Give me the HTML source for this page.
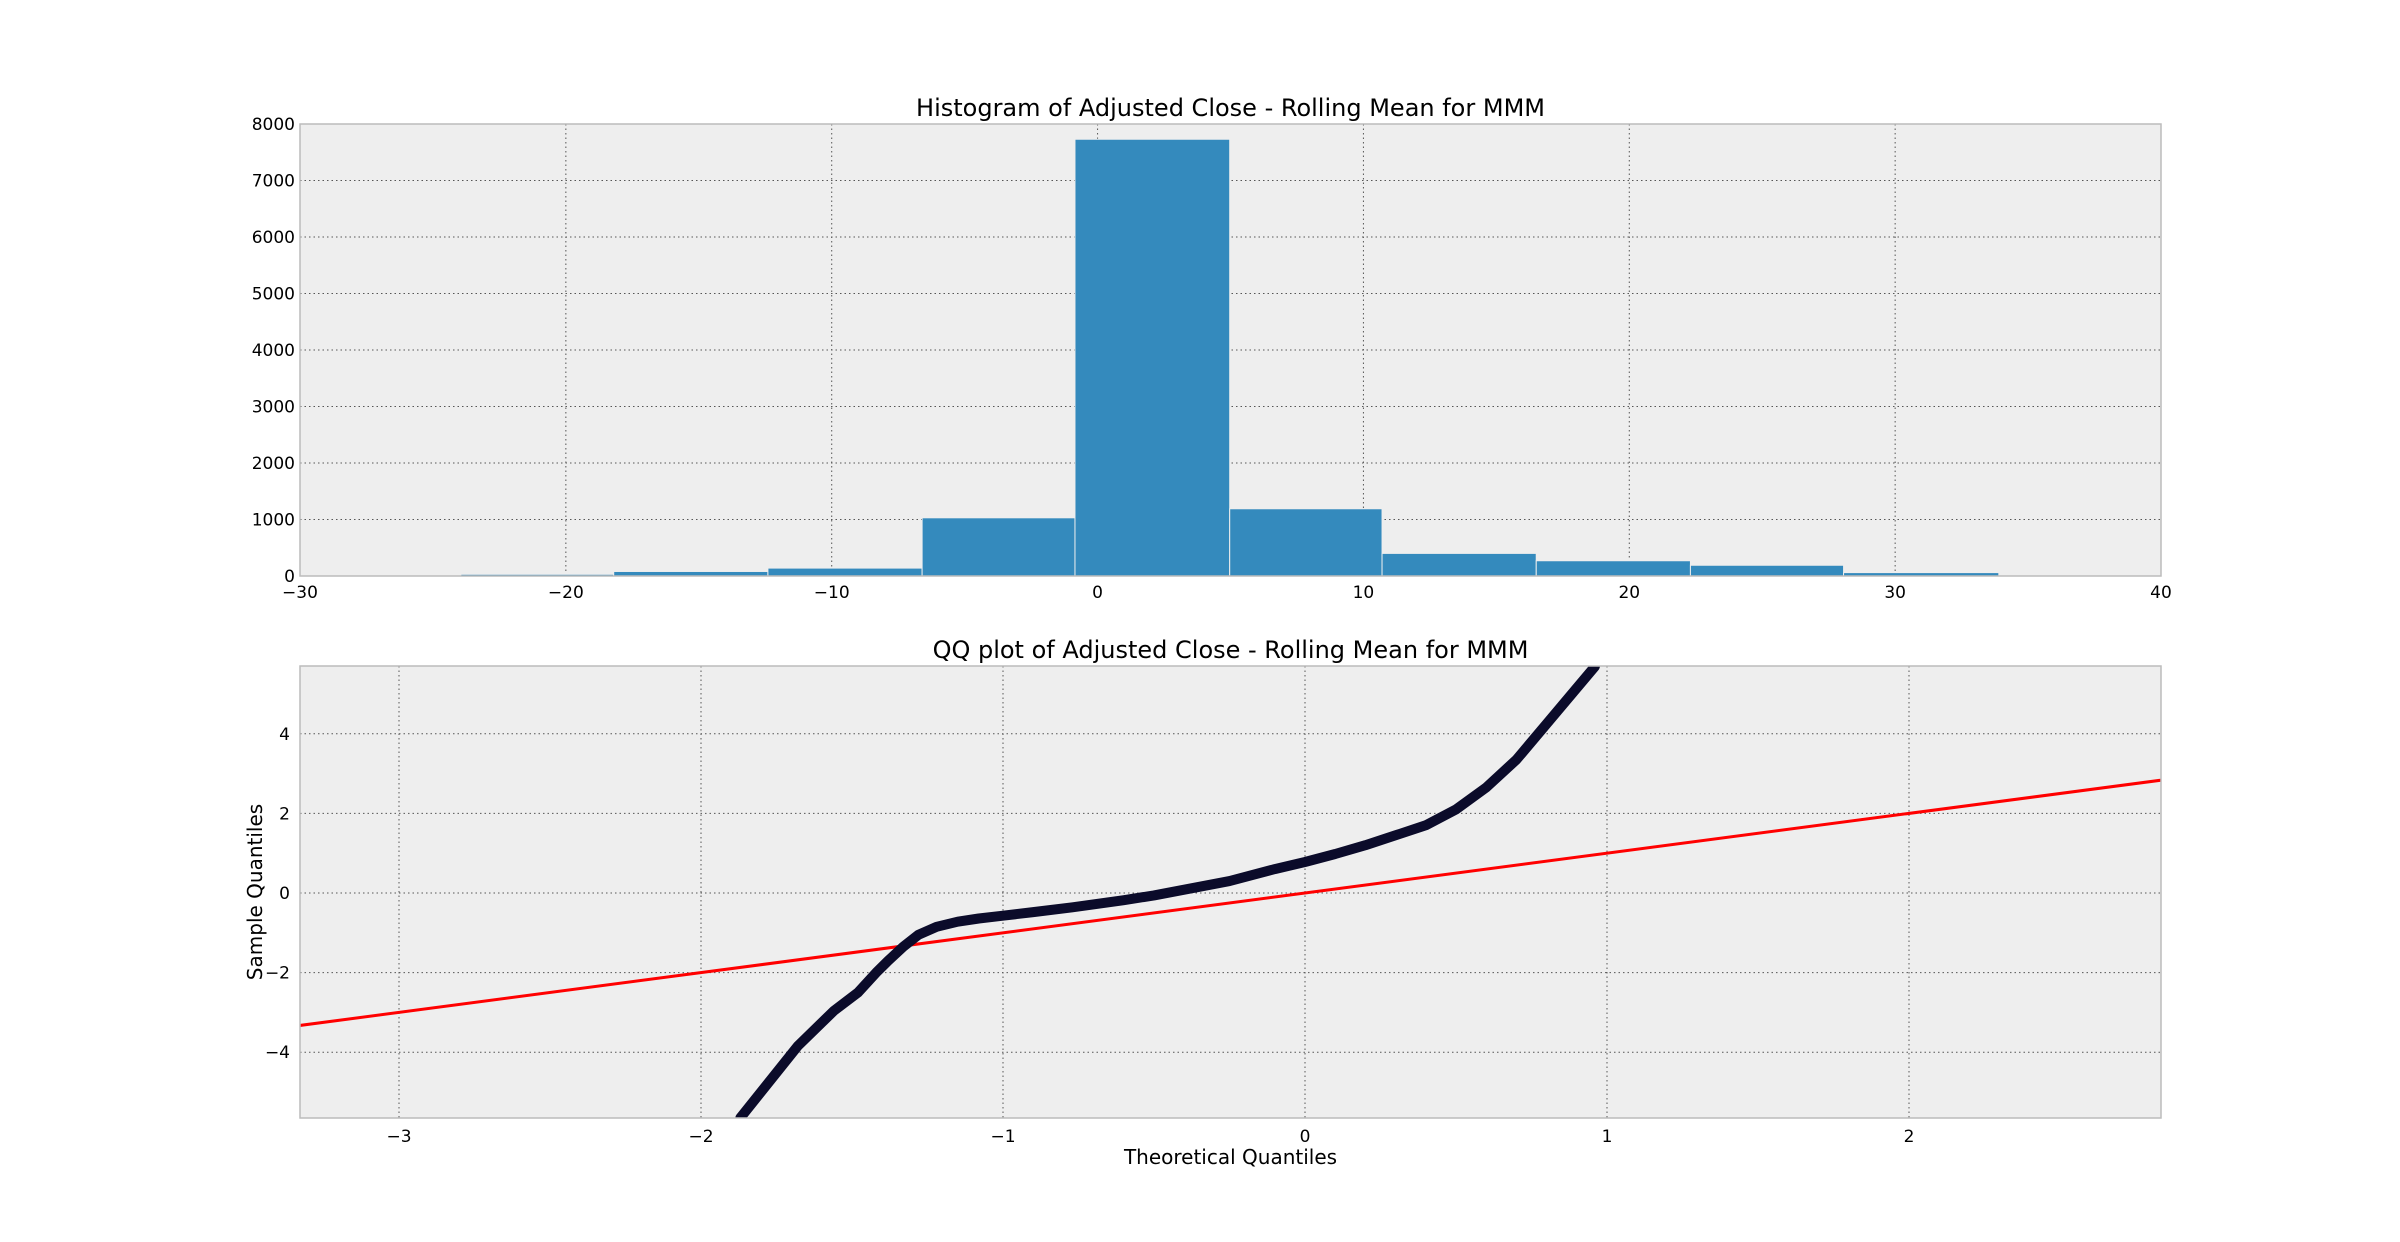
<!DOCTYPE html>
<html><head><meta charset="utf-8"><style>
html,body{margin:0;padding:0;background:#fff;width:2400px;height:1242px;overflow:hidden}
svg text{font-family:"DejaVu Sans","Liberation Sans",sans-serif;fill:#000}
</style></head><body>
<svg id="fig" width="2400" height="1242" xmlns="http://www.w3.org/2000/svg"></svg>
<script>
const binEdges=[-23.95,-18.2,-12.4,-6.6,-0.85,4.97,10.7,16.5,22.3,28.06,33.9];
const binCounts=[30,80,140,1030,7730,1190,400,270,190,60];
const histXTicks=[-30,-20,-10,0,10,20,30,40];
const histXTickLabels=["\u221230","\u221220","\u221210","0","10","20","30","40"];
const histYTicks=[0,1000,2000,3000,4000,5000,6000,7000,8000];
const qqX=[-1.87,-1.78,-1.68,-1.56,-1.48,-1.42,-1.38,-1.33,-1.28,-1.22,-1.15,-1.08,-1.0,-0.9,-0.77,-0.6,-0.5,-0.25,-0.1,0,0.1,0.2,0.3,0.4,0.5,0.6,0.7,0.8,0.9,0.96];
const qqY=[-5.65,-4.8,-3.85,-2.96,-2.5,-2.0,-1.7,-1.35,-1.05,-0.85,-0.72,-0.64,-0.57,-0.48,-0.36,-0.18,-0.06,0.3,0.6,0.78,0.98,1.2,1.45,1.7,2.1,2.65,3.35,4.25,5.15,5.69];
const qqXTicks=[-3,-2,-1,0,1,2];
const qqXTickLabels=["\u22123","\u22122","\u22121","0","1","2"];
const qqYTicks=[-4,-2,0,2,4];
const qqYTickLabels=["\u22124","\u22122","0","2","4"];
const refLine=[-3.4,2.9];

const NS="http://www.w3.org/2000/svg";
const svg=document.getElementById('fig');
function mk(t,a,p){const e=document.createElementNS(NS,t);for(const k in a)e.setAttribute(k,a[k]);(p||svg).appendChild(e);return e;}

const A={l:300,r:2161,t:124,b:576};
const hx=v=>A.l+(v+30)/70*(A.r-A.l);
const hy=v=>A.b-v/8000*(A.b-A.t);
const g1=mk('g',{});


const bg1=mk('rect',{x:A.l,y:A.t,width:A.r-A.l,height:A.b-A.t,fill:'#eeeeee'},g1);


histXTicks.forEach((v,i)=>{
  const x=hx(v);
  const gl=mk('line',{x1:x,x2:x,y1:A.t,y2:A.b,stroke:'#555','stroke-width':1,'stroke-dasharray':'1.5,3'},g1);
  
  
  const t=mk('text',{x:x,y:A.b+22,'font-size':17,'text-anchor':'middle'},g1);t.textContent=histXTickLabels[i];
  
  
});
histYTicks.forEach(v=>{
  const y=hy(v);
  const gl=mk('line',{x1:A.l,x2:A.r,y1:y,y2:y,stroke:'#555','stroke-width':1,'stroke-dasharray':'1.5,3'},g1);
  
  
  const t=mk('text',{x:A.l-5,y:y+6,'font-size':17,'text-anchor':'end'},g1);t.textContent=String(v);
  
  
});
binCounts.forEach((c,i)=>{
  const x0=hx(binEdges[i]),x1=hx(binEdges[i+1]);
  const r=mk('rect',{x:x0,y:hy(c),width:x1-x0,height:hy(0)-hy(c),fill:'#348abd',stroke:'#eeeeee','stroke-width':1},g1);
  
  
});
const f1=mk('rect',{x:A.l,y:A.t,width:A.r-A.l,height:A.b-A.t,fill:'none',stroke:'#bcbcbc','stroke-width':1.5},g1);


const t1=mk('text',{x:(A.l+A.r)/2,y:A.t-8,'font-size':24,'text-anchor':'middle'},g1);
t1.textContent='Histogram of Adjusted Close - Rolling Mean for MMM';



const B={l:300,r:2161,t:666,b:1118};
const qx=v=>1305+v*302;
const qy=v=>893-v*39.8;
const g2=mk('g',{});


const bg2=mk('rect',{x:B.l,y:B.t,width:B.r-B.l,height:B.b-B.t,fill:'#eeeeee'},g2);


qqXTicks.forEach((v,i)=>{
  const x=qx(v);
  const gl=mk('line',{x1:x,x2:x,y1:B.t,y2:B.b,stroke:'#555','stroke-width':1,'stroke-dasharray':'1.5,3'},g2);
  
  
  const t=mk('text',{x:x,y:B.b+24,'font-size':17,'text-anchor':'middle'},g2);t.textContent=qqXTickLabels[i];
  
  
});
qqYTicks.forEach((v,i)=>{
  const y=qy(v);
  const gl=mk('line',{x1:B.l,x2:B.r,y1:y,y2:y,stroke:'#555','stroke-width':1,'stroke-dasharray':'1.5,3'},g2);
  
  
  const t=mk('text',{x:B.l-10,y:y+6,'font-size':17,'text-anchor':'end'},g2);t.textContent=qqYTickLabels[i];
  
  
});
const clip=mk('clipPath',{id:'qc'},g2);mk('rect',{x:B.l,y:B.t,width:B.r-B.l,height:B.b-B.t},clip);
const rl=mk('line',{x1:qx(refLine[0]),y1:qy(refLine[0]),x2:qx(refLine[1]),y2:qy(refLine[1]),stroke:'#ff0000','stroke-width':3,'clip-path':'url(#qc)'},g2);


const pts=qqX.map((x,i)=>qx(x).toFixed(1)+','+qy(qqY[i]).toFixed(1)).join(' ');
const cur=mk('polyline',{points:pts,fill:'none',stroke:'#0b0b2a','stroke-width':10,'stroke-linejoin':'round','stroke-linecap':'round','clip-path':'url(#qc)'},g2);


const f2=mk('rect',{x:B.l,y:B.t,width:B.r-B.l,height:B.b-B.t,fill:'none',stroke:'#bcbcbc','stroke-width':1.5},g2);


const t2=mk('text',{x:(B.l+B.r)/2,y:B.t-8,'font-size':24,'text-anchor':'middle'},g2);
t2.textContent='QQ plot of Adjusted Close - Rolling Mean for MMM';


const xl=mk('text',{x:(B.l+B.r)/2,y:1164,'font-size':20,'text-anchor':'middle'},g2);
xl.textContent='Theoretical Quantiles';


const yl=mk('text',{x:0,y:0,'font-size':20,'text-anchor':'middle',transform:'translate(262,892) rotate(-90)'},g2);
yl.textContent='Sample Quantiles';


</script>
</body></html>
